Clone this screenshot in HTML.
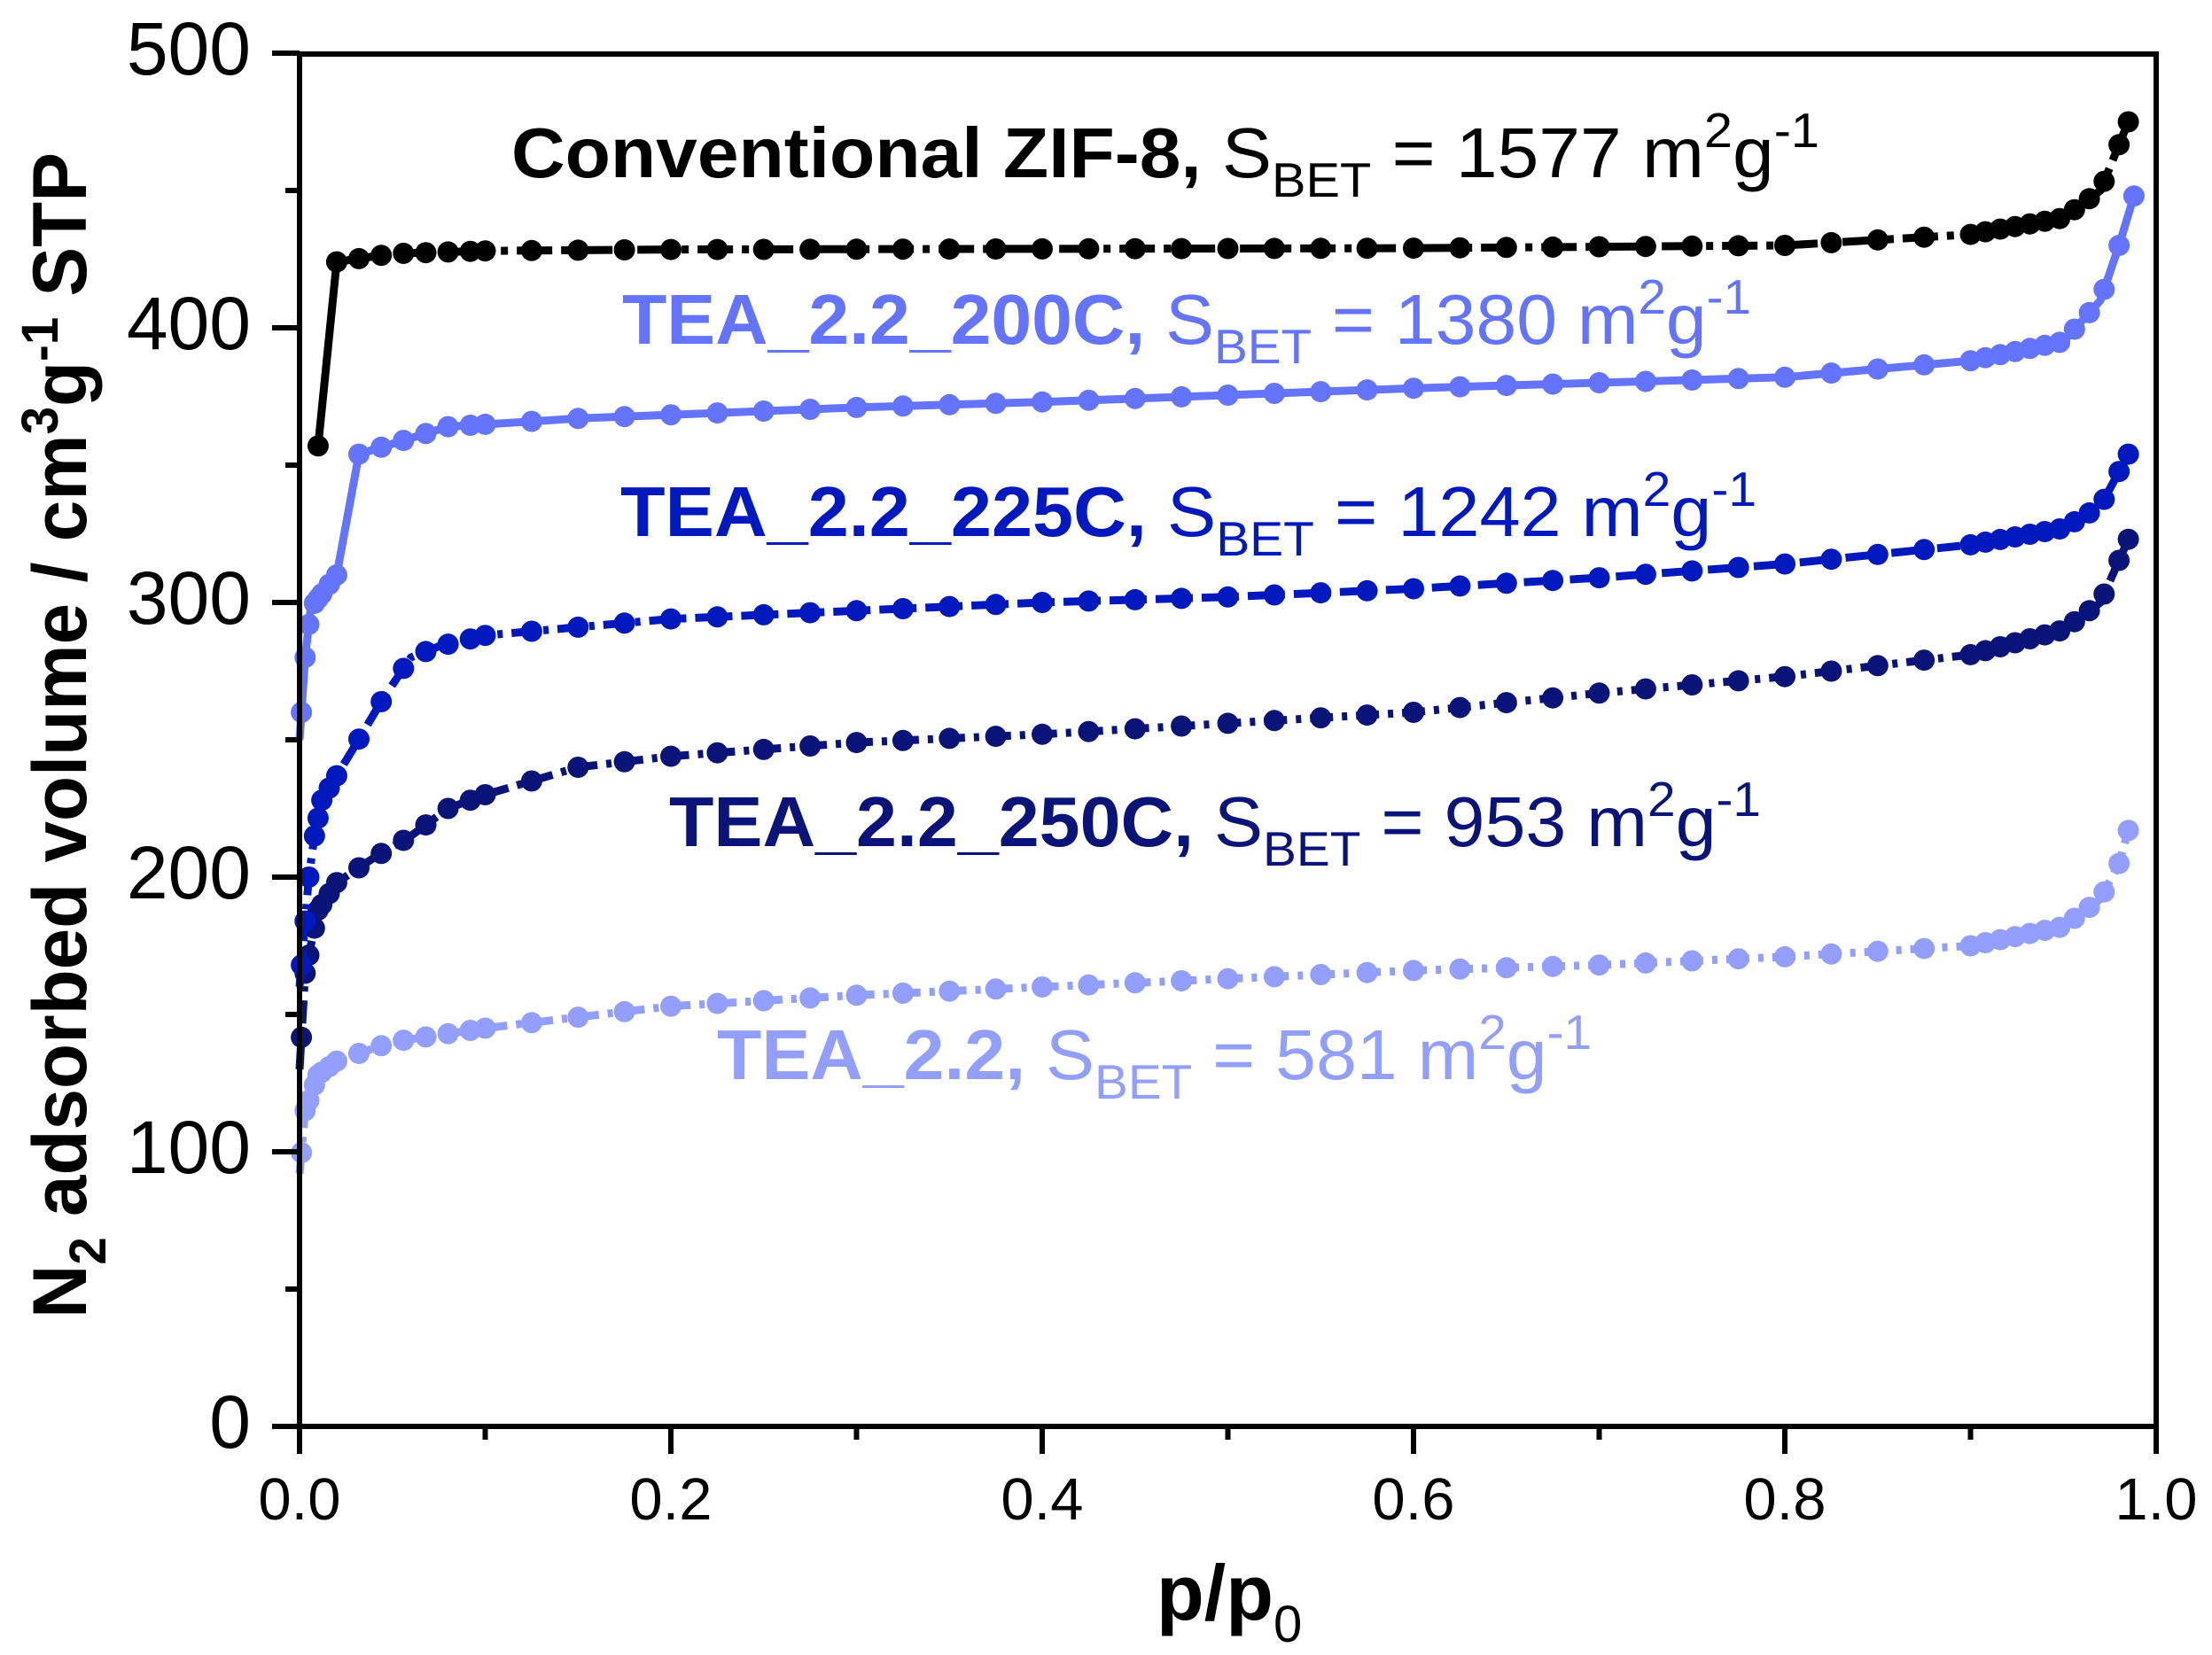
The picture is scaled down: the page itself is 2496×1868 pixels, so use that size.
<!DOCTYPE html>
<html><head><meta charset="utf-8"><style>
html,body{margin:0;padding:0;background:#fff;}
svg{display:block;}
text{font-family:"Liberation Sans",Arial,sans-serif;}
</style></head><body>
<svg id="s" width="2496" height="1868" viewBox="0 0 2496 1868" xmlns="http://www.w3.org/2000/svg">
<g id="plot"></g>
<rect x="338" y="61" width="2095" height="1549" fill="none" stroke="#000" stroke-width="6"/>
<g id="ticks" stroke="#000" stroke-width="6"></g>
<g font-size="84" text-anchor="end" fill="#000">
<text x="283" y="84">500</text>
<text x="283" y="394">400</text>
<text x="283" y="704">300</text>
<text x="283" y="1014">200</text>
<text x="283" y="1324">100</text>
<text x="283" y="1634">0</text>
</g>
<g font-size="67" text-anchor="middle" fill="#000">
<text x="338" y="1715">0.0</text>
<text x="757" y="1715">0.2</text>
<text x="1176" y="1715">0.4</text>
<text x="1595" y="1715">0.6</text>
<text x="2014" y="1715">0.8</text>
<text x="2433" y="1715">1.0</text>
</g>
<text x="1305" y="1828" font-size="88" font-weight="bold">p/p<tspan font-size="58" font-weight="normal" dy="25">0</tspan></text>
<text transform="translate(97,830) rotate(-90)" text-anchor="middle" font-size="86" font-weight="bold" textLength="1316" lengthAdjust="spacingAndGlyphs">N<tspan font-size="58" dy="22">2</tspan><tspan dy="-22"> adsorbed volume / cm</tspan><tspan font-size="58" dy="-32">3</tspan><tspan dy="32">g</tspan><tspan font-size="58" dy="-32">-1</tspan><tspan dy="32"> STP</tspan></text>
<text x="577" y="200" font-size="80" fill="#000" textLength="1476" lengthAdjust="spacingAndGlyphs"><tspan font-weight="bold">Conventional ZIF-8,</tspan>  S<tspan font-size="55" dy="22">BET</tspan><tspan dy="-22"> = 1577 m</tspan><tspan font-size="55" dy="-34">2</tspan><tspan dy="34">g</tspan><tspan font-size="55" dy="-34">-1</tspan></text>
<text x="702" y="388" font-size="80" fill="#6474ff" textLength="1274" lengthAdjust="spacingAndGlyphs"><tspan font-weight="bold">TEA_2.2_200C,</tspan> S<tspan font-size="55" dy="22">BET</tspan><tspan dy="-22"> = 1380 m</tspan><tspan font-size="55" dy="-34">2</tspan><tspan dy="34">g</tspan><tspan font-size="55" dy="-34">-1</tspan></text>
<text x="700" y="605" font-size="80" fill="#0019bf" textLength="1282" lengthAdjust="spacingAndGlyphs"><tspan font-weight="bold">TEA_2.2_225C,</tspan> S<tspan font-size="55" dy="22">BET</tspan><tspan dy="-22"> = 1242 m</tspan><tspan font-size="55" dy="-34">2</tspan><tspan dy="34">g</tspan><tspan font-size="55" dy="-34">-1</tspan></text>
<text x="755" y="955" font-size="80" fill="#0a1478" textLength="1232" lengthAdjust="spacingAndGlyphs"><tspan font-weight="bold">TEA_2.2_250C,</tspan> S<tspan font-size="55" dy="22">BET</tspan><tspan dy="-22"> = 953 m</tspan><tspan font-size="55" dy="-34">2</tspan><tspan dy="34">g</tspan><tspan font-size="55" dy="-34">-1</tspan></text>
<text x="809" y="1218" font-size="80" fill="#939fff" textLength="987" lengthAdjust="spacingAndGlyphs"><tspan font-weight="bold">TEA_2.2,</tspan> S<tspan font-size="55" dy="22">BET</tspan><tspan dy="-22"> = 581 m</tspan><tspan font-size="55" dy="-34">2</tspan><tspan dy="34">g</tspan><tspan font-size="55" dy="-34">-1</tspan></text>
</svg>
<script>
(function(){
function X(p){return 338+p*2095;}
function Y(v){return 1610-v*3.1;}
var t=document.getElementById('ticks'),s='';
for(var i=0;i<=10;i++){var x=X(i/10);s+='<line x1="'+x+'" y1="1610" x2="'+x+'" y2="'+(i%2==0?1641:1625)+'"/>';}
for(var j=0;j<=10;j++){var y=Y(j*50);s+='<line x1="338" y1="'+y+'" x2="'+(j%2==0?307:322)+'" y2="'+y+'"/>';}
t.innerHTML=s;
function interp(k,p){for(var i=0;i<k.length-1;i++){if(p<=k[i+1][0]){var a=k[i],b=k[i+1];return a[1]+(b[1]-a[1])*(p-a[0])/(b[0]-a[0]);}}return k[k.length-1][1];}
var series=[
{c:"#939fff",dash:"26 10 6 10",k:[[0,92],[0.003,115],[0.01,128],[0.02,133],[0.05,140],[0.1,145],[0.15,149],[0.2,153],[0.3,157],[0.4,160],[0.5,163],[0.6,166],[0.7,168],[0.8,171],[0.9,175],[0.95,182],[0.97,192],[0.98,205],[0.985,217]]},
{c:"#0a1478",dash:"26 10 6 10",k:[[0,130],[0.003,165],[0.01,188],[0.02,198],[0.04,207],[0.06,215],[0.08,225],[0.1,230],[0.15,240],[0.2,244],[0.3,249],[0.4,252],[0.5,256],[0.6,260],[0.7,267],[0.8,273],[0.9,281],[0.95,290],[0.97,300],[0.985,323]]},
{c:"#0019bf",dash:"26 10 6 10",k:[[0,160],[0.005,200],[0.008,215],[0.012,228],[0.03,248],[0.045,265],[0.06,280],[0.075,284],[0.1,288],[0.15,291],[0.2,294],[0.3,297],[0.4,300],[0.5,302],[0.6,305],[0.7,309],[0.8,314],[0.9,321],[0.95,327],[0.97,335],[0.985,354]]},
{c:"#6474ff",dash:"",k:[[0,250],[0.003,280],[0.006,298],[0.02,310],[0.032,354],[0.08,364],[0.15,367],[0.3,371],[0.4,373],[0.6,378],[0.8,382],[0.9,388],[0.95,395],[0.97,410],[0.98,430],[0.988,448]]},
{c:"#000",dash:"40 10 8 10",skip:[0.0101,0.0199],k:[[0.02,424],[0.03,425],[0.05,427],[0.1,428],[0.2,428.5],[0.6,429],[0.8,430],[0.9,434],[0.95,440],[0.97,450],[0.985,475]]}
];
var g=document.getElementById('plot'),h='';
h+='<line x1="'+X(0.01)+'" y1="'+Y(357)+'" x2="'+X(0.02)+'" y2="'+Y(424)+'" stroke="#000" stroke-width="9"/>';
h+='<circle cx="'+X(0.01)+'" cy="'+Y(357)+'" r="12" fill="#000"/>';
series.forEach(function(sr){
 var k=sr.k,p0=k[0][0],p1=k[k.length-1][0],pts=[],ps=[];
 k.forEach(function(q){pts.push(X(q[0]).toFixed(1)+','+Y(q[1]).toFixed(1));});
 h+='<polyline points="'+pts.join(' ')+'" fill="none" stroke="'+sr.c+'" stroke-width="9" stroke-linejoin="round"'+(sr.dash?' stroke-dasharray="'+sr.dash+'"':'')+'/>';
 var p;
 [0.001,0.003,0.005,0.008,0.01,0.012,0.016].forEach(function(v){ps.push(v);});
 for(p=0.02;p<0.1;p+=0.012)ps.push(p);
 for(p=0.1;p<0.9;p+=0.025)ps.push(p);
 for(p=0.9;p<p1;p+=0.008)ps.push(p);
 ps.push(p1);
 ps.forEach(function(v){if(v<p0)return;if(sr.skip&&v>sr.skip[0]&&v<sr.skip[1])return;h+='<circle cx="'+X(v).toFixed(1)+'" cy="'+Y(interp(k,v)).toFixed(1)+'" r="12" fill="'+sr.c+'"/>';});
});
g.innerHTML=h;
})();
</script>
</body></html>
